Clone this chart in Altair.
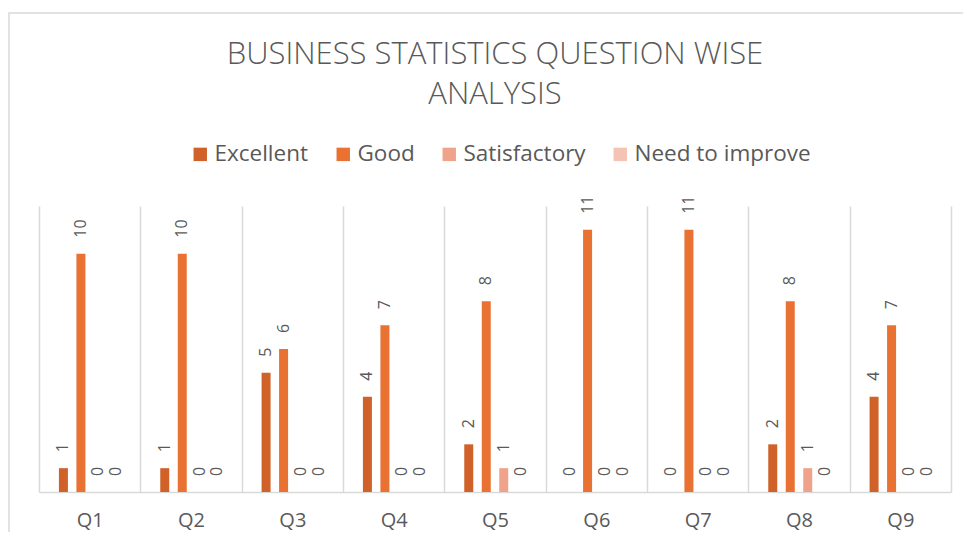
import altair as alt
import pandas as pd

questions = ["Q1", "Q2", "Q3", "Q4", "Q5", "Q6", "Q7", "Q8", "Q9"]
categories = ["Excellent", "Good", "Satisfactory", "Need to improve"]
excellent = [1, 1, 5, 4, 2, 0, 0, 2, 4]
good = [10, 10, 6, 7, 8, 11, 11, 8, 7]
satisfactory = [0, 0, 0, 0, 1, 0, 0, 1, 0]
need_to_improve = [0, 0, 0, 0, 0, 0, 0, 0, 0]
colors = ["#CF6129", "#E97132", "#F0A38B", "#F4C3B3"]
title_lines = ["BUSINESS STATISTICS QUESTION WISE", "ANALYSIS"]

series = [excellent, good, satisfactory, need_to_improve]
rows = []
for cat, vals in zip(categories, series):
    for q, v in zip(questions, vals):
        rows.append({"Question": q, "Category": cat, "Value": v})
df = pd.DataFrame(rows)

W, H = 912, 286
BAND = W / len(questions)
GROUP = 70
FONT = "Open Sans"
GRAY = "#595959"
LINE = "#d9d9d9"

x_enc = alt.X("Question:N", sort=questions,
              scale=alt.Scale(paddingInner=0, paddingOuter=0),
              axis=alt.Axis(title=None, labelAngle=0, labelFontSize=20, labelColor=GRAY,
                            labelFont=FONT, ticks=False, domainColor=LINE, domainWidth=1.5,
                            grid=True, gridColor=LINE, gridWidth=1.5, tickBand="extent",
                            labelPadding=18))
xo_enc = alt.XOffset("Category:N", sort=categories,
                     scale=alt.Scale(paddingInner=0.486, paddingOuter=0.243,
                                     range=[(BAND - GROUP) / 2, (BAND + GROUP) / 2]))
y_enc = alt.Y("Value:Q", scale=alt.Scale(domain=[0, 12]), axis=None)

base = alt.Chart(df)

bars = base.mark_bar().encode(
    x=x_enc, xOffset=xo_enc, y=y_enc,
    color=alt.Color("Category:N", sort=categories,
                    scale=alt.Scale(domain=categories, range=colors),
                    legend=alt.Legend(title=None, orient="none", direction="horizontal",
                                      legendX=150, legendY=-63,
                                      symbolType="square", symbolSize=180,
                                      symbolStrokeWidth=0, symbolOpacity=1,
                                      labelFontSize=22.5, labelFont=FONT, labelColor=GRAY,
                                      labelOffset=3, labelLimit=400, columnPadding=23)),
)

labels = base.mark_text(angle=270, align="left", baseline="middle", dx=16,
                        fontSize=16, font=FONT, color=GRAY).encode(
    x=x_enc, xOffset=xo_enc, y=y_enc, text="Value:Q")

border = alt.Chart(pd.DataFrame({"a": [0]})).mark_rect(
    fill="transparent", stroke=LINE, strokeWidth=1.5).encode(
    x=alt.value(-30), x2=alt.value(W + 200), y=alt.value(-193), y2=alt.value(H + 200))

chart = alt.layer(border, bars, labels).properties(
    width=W, height=H,
    title=alt.TitleParams(title_lines, fontSize=31, font=FONT, fontWeight=300,
                          color=GRAY, anchor="middle", offset=0, dy=99, lineHeight=40),
    autosize=alt.AutoSizeParams(type="none"),
    padding={"left": 31, "top": 198, "right": 12, "bottom": 40},
).configure_view(stroke=None)

chart.save("out.html", embed_options={"renderer": "svg", "actions": False})
